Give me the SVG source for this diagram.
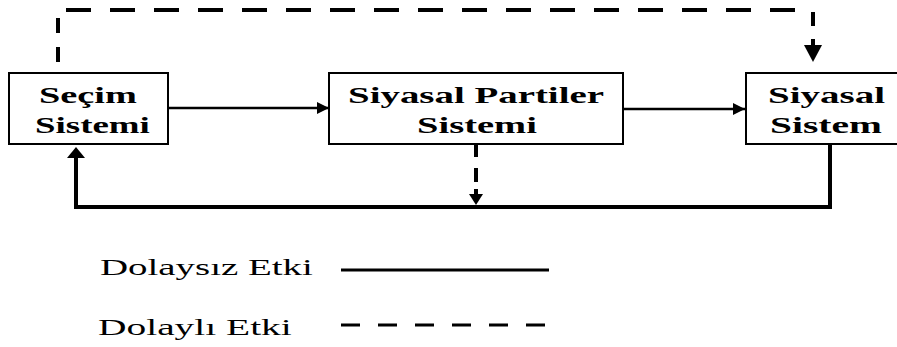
<svg xmlns="http://www.w3.org/2000/svg" width="897" height="347" viewBox="0 0 897 347">
<defs>
<style>
.box{fill:#fff;stroke:#000;stroke-width:2}
.t{font-family:"Liberation Serif","Times New Roman",serif;font-weight:bold;font-size:24px;fill:#000}
.lg{font-family:"Liberation Serif","Times New Roman",serif;font-size:23px;fill:#000}
.solid{fill:none;stroke:#000;stroke-width:2.5}
.thick{fill:none;stroke:#000;stroke-width:4}
.dash{fill:none;stroke:#000;stroke-width:4;stroke-dasharray:25 19}
</style>
<marker id="ah" viewBox="0 0 10 10" refX="10" refY="5" markerWidth="5" markerHeight="5" markerUnits="strokeWidth" orient="auto"><path d="M0,0 L10,5 L0,10 Z" fill="#000"/></marker>
</defs>
<g id="connectors">
<path class="dash" d="M58,62 V18" style="stroke-dasharray:15 14"/>
<path class="dash" d="M66,10 H795"/>
<path class="thick" d="M813,12 V26 M813,39 V47"/>
<path d="M804,45 H822 L813,62 Z" fill="#000"/>
<path class="solid" d="M168,108 H329" marker-end="url(#ah)"/>
<path class="solid" d="M623,109 H745" marker-end="url(#ah)"/>
<path class="thick" d="M830,145 V207 H76 V156"/>
<path d="M67,158 H85 L76,147 Z" fill="#000"/>
<path class="thick" d="M476,145 V157 M476,168 V182 M476,189 V196"/>
<path d="M469,194 H483 L476,205 Z" fill="#000"/>
</g>
<g id="n1">
<rect class="box" x="9" y="73" width="159" height="71"/>
<text class="t" transform="translate(39,103) scale(1.597,1)">Seçim</text>
<text class="t" transform="translate(35,133) scale(1.539,1)">Sistemi</text>
</g>
<g id="n2">
<rect class="box" x="329" y="73" width="294" height="71"/>
<text class="t" transform="translate(348,103) scale(1.621,1)">Siyasal Partiler</text>
<text class="t" transform="translate(417,133) scale(1.606,1)">Sistemi</text>
</g>
<g id="n3">
<rect class="box" x="746" y="73" width="155" height="71"/>
<text class="t" transform="translate(768,103) scale(1.625,1)">Siyasal</text>
<text class="t" transform="translate(770,133) scale(1.646,1)">Sistem</text>
</g>
<g id="legend">
<text class="lg" transform="translate(100,275) scale(1.692,1)">Dolaysız Etki</text>
<line x1="341" y1="270" x2="549" y2="270" stroke="#000" stroke-width="3"/>
<text class="lg" transform="translate(98,335) scale(1.715,1)">Dolaylı Etki</text>
<line x1="341" y1="325" x2="548" y2="325" stroke="#000" stroke-width="3" stroke-dasharray="19 18"/>
</g>
</svg>
